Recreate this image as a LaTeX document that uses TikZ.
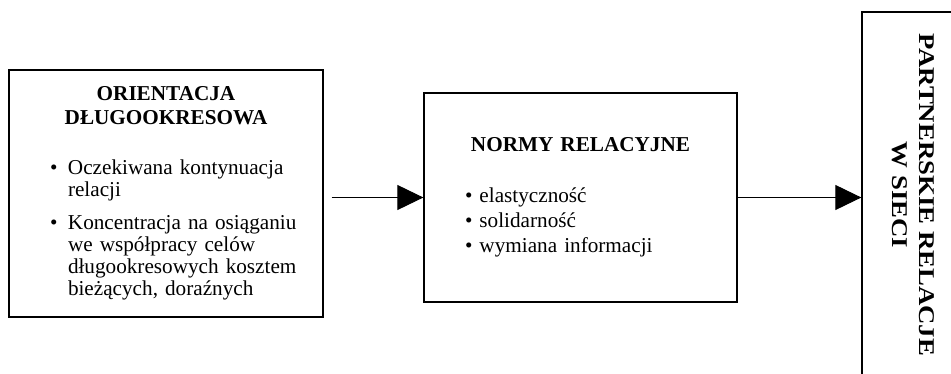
\documentclass[tikz,border=0pt]{standalone}
\usepackage{fontspec}
\usepackage{graphicx}
\setmainfont{Liberation Serif}
\usetikzlibrary{arrows.meta,positioning}

% punkt listy: kropka wysunięta w lewo przed wiersz
\newcommand{\pkt}[1]{\par\noindent\llap{\makebox[18pt][l]{\textbullet}}#1\par}

\tikzset{
  blok/.style={draw, line width=1.3pt, inner sep=0pt},
  strzalka/.style={line width=1pt, -{Triangle[length=26pt,width=25pt]}},
}

\begin{document}
\begin{tikzpicture}[x=1pt,y=-1pt]
\useasboundingbox (0,0) rectangle (951,374);

% Orientacja długookresowa
\node[blok, minimum width=314, minimum height=247, text width=270,
      font=\fontsize{21.2}{22}\selectfont] (orient) at (166,193.5) {%
  {\centering\fontsize{21.2}{24}\selectfont\bfseries ORIENTACJA\\ DŁUGOOKRESOWA\par}
  \vspace{28pt}
  \raggedright\leftskip=37pt
  \pkt{Oczekiwana kontynuacja}
  relacji\par
  \vspace{11pt}
  \pkt{Koncentracja na osiąganiu}
  we współpracy celów\par
  długookresowych kosztem\par
  bieżących, doraźnych\par
  \vspace{-3pt}
};

% Normy relacyjne
\node[blok, minimum width=313, minimum height=209, text width=231,
      font=\fontsize{21.2}{25}\selectfont] (normy) at (580.5,197.5) {%
  {\centering\fontsize{21.2}{25}\selectfont\bfseries NORMY RELACYJNE\par}
  \vspace{26pt}
  \raggedright
  \textbullet\ elastyczność\par
  \textbullet\ solidarność\par
  \textbullet\ wymiana informacji\par
  \vspace{9pt}
};

% Partnerskie relacje w sieci (pionowo)
\node[blok, rotate=-90, minimum width=366, minimum height=103, align=center,
      font=\fontsize{22.5}{27}\selectfont\bfseries] (sieci) at (913.5,195) {%
  \scalebox{1.19}[1]{PARTNERSKIE RELACJE}\\ \scalebox{1.19}[1]{W SIECI}};

% Strzałki
\coordinate (start) at ([xshift=8pt]orient.east |- normy.west);
\draw[strzalka] (start) -- (normy.west);
\draw[strzalka] (normy.east) -- (normy.east -| sieci.south);

\end{tikzpicture}
\end{document}
